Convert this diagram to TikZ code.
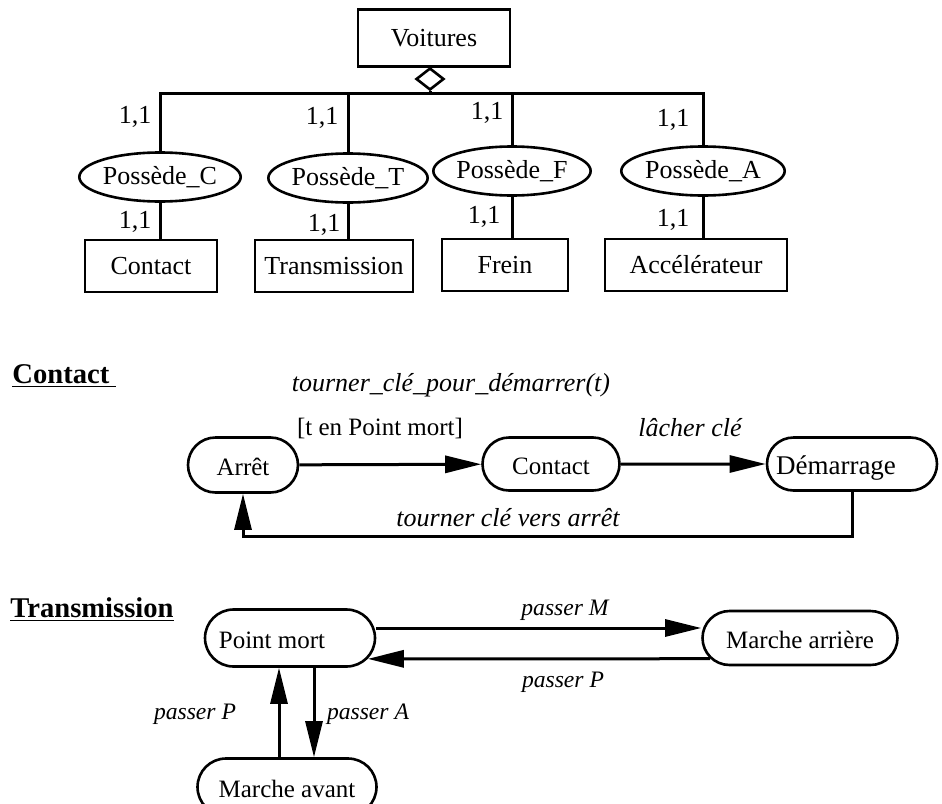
\documentclass[tikz,border=0pt]{standalone}
\usepackage{fontspec}
\setmainfont{Liberation Serif}
\usetikzlibrary{shapes.geometric,shapes.misc,arrows.meta}

\begin{document}
\begin{tikzpicture}[x=0.5pt,y=-0.5pt,
    every node/.style={font=\fontsize{12.5}{15}\selectfont},
    entite/.style={draw,line width=1.3pt,minimum height=26pt,inner sep=0pt,font=\fontsize{13}{15}\selectfont},
    relation/.style={draw,ellipse,line width=1.3pt,minimum height=24.5pt,inner sep=0pt,font=\fontsize{13}{15}\selectfont},
    card/.style={font=\fontsize{13}{15}\selectfont},
    etat/.style={draw,rounded rectangle,line width=1.3pt,minimum height=27.5pt,inner sep=0pt,text height=11.5pt,text depth=1.5pt},
    lien/.style={line width=1.5pt},
    trans/.style={line width=1.5pt,-{Triangle[length=18pt,width=8.5pt]}},
    lbl/.style={font=\fontsize{13}{15}\selectfont\itshape},
    lblp/.style={font=\fontsize{11.8}{14}\selectfont\itshape},
    titre/.style={font=\fontsize{14.3}{17}\selectfont\bfseries}]
    \useasboundingbox (0,0) rectangle (942,803);

    % schema entite-association
    \node[entite,minimum width=76pt,minimum height=28.5pt] (voit) at (434,38) {Voitures};
    \node[draw,diamond,line width=1.3pt,minimum width=14pt,minimum height=11pt,inner sep=0pt] (agreg) at (430,79) {};
    \coordinate (barre) at (430,93);

    \node[relation,minimum width=74pt] (pC) at (160,177) {Possède\_C};
    \node[relation,minimum width=73pt] (pT) at (348,178) {Possède\_T};
    \node[relation,minimum width=74.5pt] (pF) at (512,171) {Possède\_F};
    \node[relation,minimum width=73.5pt] (pA) at (703,171) {Possède\_A};

    \node[entite,minimum width=66pt] (eC) at (151,266) {Contact};
    \node[entite,minimum width=79pt] (eT) at (334,266) {Transmission};
    \node[entite,minimum width=63pt] (eF) at (505,265) {Frein};
    \node[entite,minimum width=91pt] (eA) at (696,265) {Accélérateur};

    \draw[lien] (agreg.south) -- (barre);
    \draw[lien] (pC.north) |- (barre) -| (pA.north);
    \draw[lien] (pT.north) -- (pT.north |- barre);
    \draw[lien] (pF.north) -- (pF.north |- barre);
    \draw[lien] (pC.south) -- (pC.south |- eC.north);
    \draw[lien] (pT.south) -- (pT.south |- eT.north);
    \draw[lien] (pF.south) -- (pF.south |- eF.north);
    \draw[lien] (pA.south) -- (pA.south |- eA.north);

    \node[card] (c1) at (135,117) {1,1};
    \node[card] (c2) at (322,118) {1,1};
    \node[card] (c3) at (487,113) {1,1};
    \node[card] (c4) at (673,120) {1,1};
    \node[card] (c5) at (135,222) {1,1};
    \node[card] (c6) at (324,225) {1,1};
    \node[card] (c7) at (484,217) {1,1};
    \node[card] (c8) at (673,220) {1,1};

    % automate du contact
    \node[titre,anchor=base west,inner sep=0pt] (hcont) at (12,383) {\underline{Contact\ }};
    \node[etat,minimum width=55pt] (arret) at (243,465) {Arrêt};
    \node[etat,minimum width=68.5pt,minimum height=26.5pt] (cont) at (551,464) {Contact};
    \node[etat,minimum width=85pt,minimum height=26.5pt] (dem) at (852,464) {\hspace*{-16pt}\fontsize{13.5}{15}\selectfont Démarrage};

    \draw[trans] (arret) -- (cont);
    \draw[trans] (cont) -- (dem);
    \draw[trans] (dem.south) -- ++(0,45) -| (arret.south);

    \node[lbl] (l1) at (451,385) {tourner\_clé\_pour\_démarrer(t)};
    \node (l2) at (380,428) {[t en Point mort]};
    \node[lbl] (l3) at (690,428) {lâcher clé};
    \node[lbl] (l4) at (508,518) {tourner clé vers arrêt};

    % automate de la transmission
    \node[titre,anchor=base west,inner sep=0pt] (htrans) at (10,617) {\underline{Transmission}};
    \node[etat,minimum width=85pt,minimum height=28.5pt] (pm) at (290,638) {\hspace*{-18pt}Point mort};
    \node[etat,minimum width=97.5pt,minimum height=27pt] (marr) at (800,638) {Marche arrière};
    \node[etat,minimum width=89.5pt,minimum height=28.5pt] (mav) at (287,787) {Marche avant};

    \draw[trans] ([yshift=5pt]pm.east) -- ([yshift=5pt]marr.west);
    \draw[trans] (marr.193) -- (pm.345);
    \draw[trans] ([xshift=-5.5pt]pm.south |- mav.north) -- ([xshift=-5.5pt]pm.south);
    \draw[trans] ([xshift=12pt]pm.south) -- ([xshift=12pt]pm.south |- mav.north);

    \node[lblp] (t1) at (565,610) {passer M};
    \node[lblp] (t2) at (563,682) {passer P};
    \node[lblp] (t3) at (195,714) {passer P};
    \node[lblp] (t4) at (368,714) {passer A};
\end{tikzpicture}
\end{document}
